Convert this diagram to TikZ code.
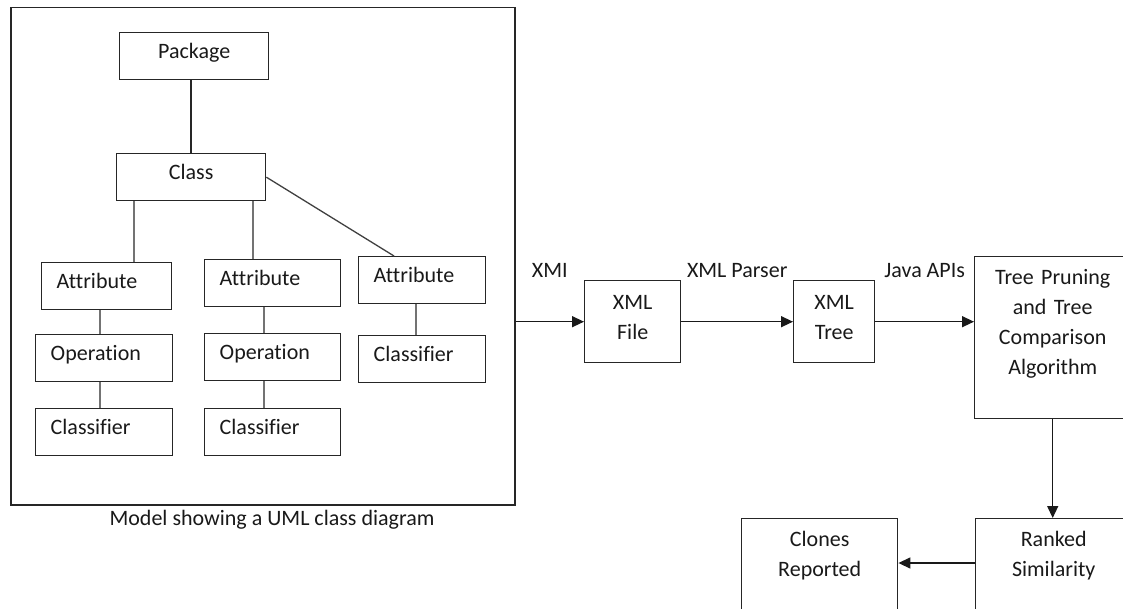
\documentclass[tikz,border=0pt]{standalone}
\usepackage{fontspec}
\setmainfont{Carlito}[Ligatures={NoCommon,NoRare,NoContextual}]
\usetikzlibrary{arrows.meta}

\begin{document}
\begin{tikzpicture}[
  x=1pt, y=-1pt,
  font=\fontsize{22}{30}\selectfont,
  text=black!90,
  box/.style={rectangle, draw=black!85, line width=1.4pt, inner sep=0pt, anchor=north west},
  head/.style={box, minimum width=149pt, text height=26pt, text depth=21pt},
  leaf/.style={box, inner xsep=15pt, text width=#1pt, align=left, text height=26pt, text depth=21pt},
  stage/.style={box, text width=#1pt, align=center, text height=29pt, text depth=53pt},
  tall/.style={stage=#1, text height=28pt, text depth=134pt},
  link/.style={draw=black!55, line width=1.6pt},
  arr/.style={draw=black!90, line width=1.4pt, -{Triangle[length=12pt, width=11pt]}},
  lbl/.style={inner sep=0pt, text depth=0pt, above=43pt}
]
\useasboundingbox (0,0) rectangle (1123,609);
\clip (0,0) rectangle (1123,609);

% UML model frame
\node[box, line width=1.5pt, minimum width=504pt, minimum height=497pt] (model) at (10,7) {};
\node[anchor=base] (caption) at (272,525) {Model showing a UML class diagram};

\node[head] (pkg) at (119,32) {Package};
\node[head] (cls) at (116,153) {Class};

% three branches below the class
\node[leaf=100] (attrA) at (41,262) {Attribute};
\node[leaf=107] (opA)   at (35,334) {Operation};
\node[leaf=107] (clsA)  at (35,408) {Classifier};

\node[leaf=106] (attrB) at (204,259) {Attribute};
\node[leaf=106] (opB)   at (204,333) {Operation};
\node[leaf=106] (clsB)  at (204,408) {Classifier};

\node[leaf=97] (attrC) at (358,256) {Attribute};
\node[leaf=97] (clsC)  at (358,335) {Classifier};

% where the stems meet the boxes
\coordinate (colP) at (191,0);
\coordinate (colA) at (134,0);
\coordinate (colB) at (253,0);
\coordinate (colC) at (394,0);
\coordinate (stemA) at (100,0);
\coordinate (stemB) at (264,0);
\coordinate (stemC) at (416,0);

\draw[link, draw=black!85] (pkg.south -| colP) -- (cls.north -| colP);
\draw[link] (cls.south -| colA) -- (attrA.north -| colA);
\draw[link] (cls.south -| colB) -- (attrB.north -| colB);
\draw[link, draw=black!75, line width=1.3pt] (cls.east) -- (attrC.north -| colC);

\draw[link] (attrA.south -| stemA) -- (opA.north -| stemA);
\draw[link] (opA.south -| stemA) -- (clsA.north -| stemA);
\draw[link] (attrB.south -| stemB) -- (opB.north -| stemB);
\draw[link] (opB.south -| stemB) -- (clsB.north -| stemB);
\draw[link] (attrC.south -| stemC) -- (clsC.north -| stemC);

% processing pipeline
\node[stage=96] (xmlfile) at (584,280) {XML\\File};
\node[stage=81] (xmltree) at (793,280) {XML\\Tree};
\node[tall=156] (algo) at (974,256) {Tree Pruning\\and Tree\\Comparison\\Algorithm};
\node[tall=156] (ranked) at (975,518) {Ranked\\Similarity};
\node[tall=156] (clones) at (741,518) {Clones\\Reported};

\coordinate (rowR) at (0,563);

\draw[arr] (model.east |- xmlfile.west) -- (xmlfile.west) node[lbl, midway] (lxmi) {XMI};
\draw[arr] (xmlfile.east) -- (xmltree.west) node[lbl, midway] (lparser) {XML Parser};
\draw[arr] (xmltree.east) -- (algo.west |- xmltree.east) node[lbl, midway] (lapi) {Java APIs};
\draw[arr] (algo.south) -- (ranked.north -| algo.south);
\draw[arr] (ranked.west |- rowR) -- (clones.east |- rowR);

\end{tikzpicture}
\end{document}
